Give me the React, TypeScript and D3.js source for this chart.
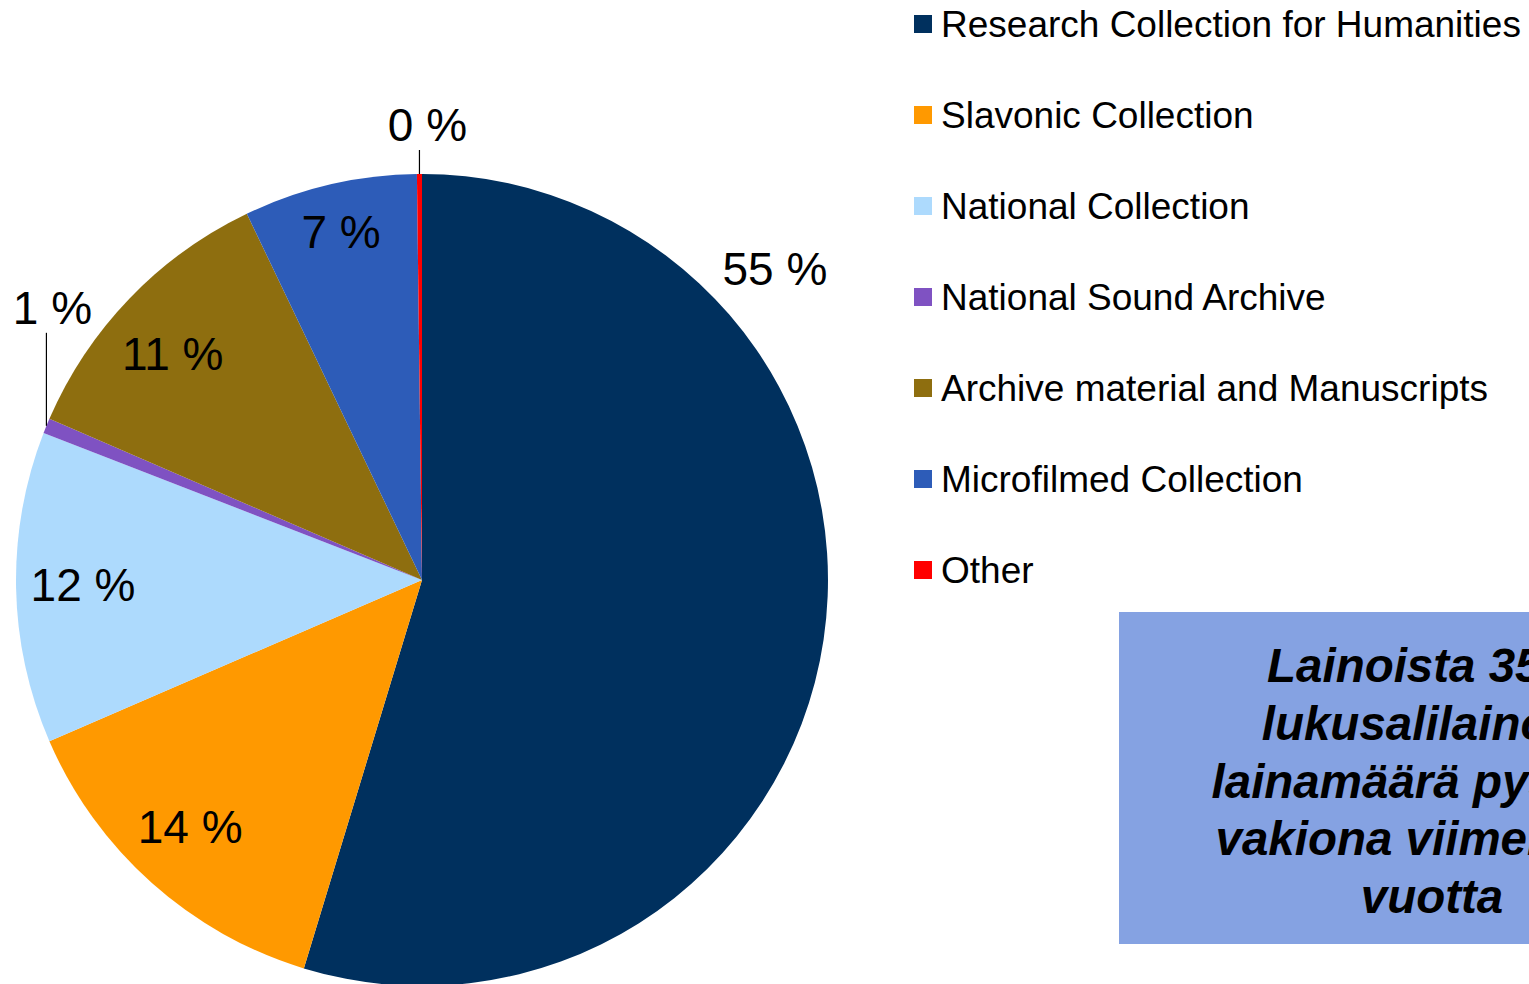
import React from "react";
import * as d3 from "d3";

const categories = [
  "Research Collection for Humanities",
  "Slavonic Collection",
  "National Collection",
  "National Sound Archive",
  "Archive material and Manuscripts",
  "Microfilmed Collection",
  "Other",
];
const values = [54.7, 13.8, 12.4, 0.6, 11.4, 6.9, 0.2];
const colors = ["#00305E", "#FF9900", "#ADDAFD", "#7F52C2", "#8E6E0F", "#2D5CB8", "#FF0000"];
const noteLines = ["Lainoista 35 %", "lukusalilainoja,", "lainamäärä pysynyt", "vakiona viimeiset 5", "vuotta"];

const W = 1529;
const H = 984;
const FONT = "'Liberation Sans', Arial, Helvetica, sans-serif";

export default function App() {
  const cx = 422;
  const cy = 580;
  const R = 406;
  const total = d3.sum(values);
  const pie = d3
    .pie<number>()
    .sort(null)
    .value((d) => d)
    .startAngle(0)
    .endAngle(2 * Math.PI);
  const arcs = pie(values);
  const arc = d3.arc<d3.PieArcDatum<number>>().innerRadius(0).outerRadius(R);

  const polar = (ang: number, r: number) => [cx + r * Math.sin(ang), cy - r * Math.cos(ang)];

  // label placement rules (Excel "best fit" style)
  const labelFor = (i: number, a: d3.PieArcDatum<number>) => {
    const mid = (a.startAngle + a.endAngle) / 2;
    if (i === 0) {
      const [x, y] = polar((48.7 * Math.PI) / 180, R * 1.157);
      return { x, y, leader: null as null | number[] };
    }
    if (i === 3 || i === 6) {
      const [ox, oy] = polar(mid, R);
      const off = i === 3 ? [6, -117] : [8, -48];
      const lx = ox + off[0];
      const ly = oy + off[1];
      return { x: lx, y: ly, leader: [ox, oy, ox, ly + 24] };
    }
    const f = i === 5 ? 0.877 : 0.835;
    const [x, y] = polar(mid, R * f);
    const tweak = i === 1 ? [-6, -5] : i === 4 ? [-5, 10] : [0, 0];
    return { x: x + tweak[0], y: y + tweak[1], leader: null };
  };

  const legendY0 = 24;
  const legendStep = 91;

  return (
    <svg
      width={W}
      height={H}
      style={{ position: "absolute", left: 0, top: 0, display: "block", background: "#fff" }}
      fontFamily={FONT}
    >
      <g>
        {arcs.map((a, i) => (
          <path key={categories[i]} d={arc(a) || ""} transform={`translate(${cx},${cy})`} fill={colors[i]} />
        ))}
      </g>
      <g>
        {arcs.map((a, i) => {
          const l = labelFor(i, a);
          const pct = Math.round((values[i] / total) * 100);
          return (
            <g key={"l" + i}>
              {l.leader && (
                <line
                  x1={l.leader[0]}
                  y1={l.leader[1]}
                  x2={l.leader[2]}
                  y2={l.leader[3]}
                  stroke="#000"
                  strokeWidth={1.2}
                />
              )}
              <text x={l.x} y={l.y} dy="0.32em" textAnchor="middle" fontSize={46} fill="#000">
                {pct} %
              </text>
            </g>
          );
        })}
      </g>
      <g>
        {categories.map((c, i) => (
          <g key={"lg" + i} transform={`translate(0,${legendY0 + i * legendStep})`}>
            <rect x={914} y={-9} width={18} height={18} fill={colors[i]} />
            <text x={941} y={0} dy="0.35em" fontSize={37} fill="#000">
              {c}
            </text>
          </g>
        ))}
      </g>
      <g>
        <rect x={1119} y={612} width={640} height={332} fill="#85A2E2" />
        {noteLines.map((t, i) => (
          <text
            key={"n" + i}
            x={1432}
            y={682 + i * 57.8}
            textAnchor="middle"
            fontSize={47.5}
            fontWeight="bold"
            fontStyle="italic"
            fill="#000"
          >
            {t}
          </text>
        ))}
      </g>
    </svg>
  );
}
